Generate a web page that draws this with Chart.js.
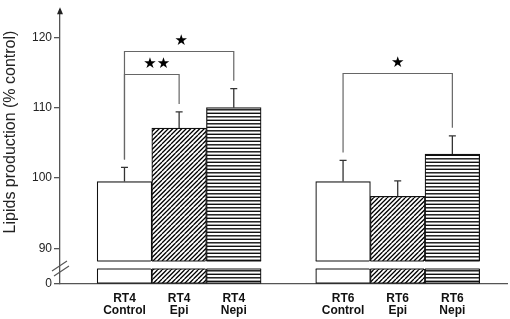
<!DOCTYPE html>
<html>
<head>
<meta charset="utf-8">
<script src="https://cdn.jsdelivr.net/npm/chart.js@4.4.1/dist/chart.umd.min.js"></script>
<style>
  html, body { margin: 0; padding: 0; background: #fff; }
  #wrap { width: 510px; height: 319px; position: relative; }
</style>
</head>
<body>
<div id="wrap"><canvas id="lipidsChart"></canvas></div>
<script>
// --- data ---
const groups = ['RT4', 'RT6'];
const treatments = ['Control', 'Epi', 'Nepi'];
const rt4Means = [99.5, 107.1, 110.0];
const rt4Sem = [2.0, 2.3, 2.7];
const rt6Means = [99.5, 97.4, 103.4];
const rt6Sem = [3.0, 2.2, 2.6];
const yTicks = [0, 90, 100, 110, 120];
const comparisons = [
    { from: 0, to: 1, mark: '★★' },
    { from: 0, to: 2, mark: '★' },
    { from: 3, to: 5, mark: '★' }
];

// axis break: values below BREAK_AT squeezed into LOW_PX at the bottom
const BREAK_AT = 88.2;
const LOW_PX = 23;
const AXIS_COLOR = '#555';

class BrokenScale extends Chart.LinearScale {
    static id = 'broken';
    static defaults = {};
    getPixelForValue(value) {
        const v = +value;
        const h = this.bottom - this.top;
        if (v <= BREAK_AT) return this.bottom - (v / BREAK_AT) * LOW_PX;
        return this.bottom - LOW_PX - (v - BREAK_AT) / (this.max - BREAK_AT) * (h - LOW_PX);
    }
    getValueForPixel(pixel) {
        const h = this.bottom - this.top;
        const d = this.bottom - pixel;
        if (d <= LOW_PX) return d / LOW_PX * BREAK_AT;
        return BREAK_AT + (d - LOW_PX) / (h - LOW_PX) * (this.max - BREAK_AT);
    }
}
Chart.register(BrokenScale);

function makeHatch() {
    const c = document.createElement('canvas');
    c.width = 9; c.height = 9;
    const g = c.getContext('2d');
    g.fillStyle = '#fff';
    g.fillRect(0, 0, 9, 9);
    g.strokeStyle = '#000';
    g.lineWidth = 1.3;
    g.beginPath();
    for (const o of [-9, -4.5, 0, 4.5, 9]) { g.moveTo(o, 9); g.lineTo(o + 9, 0); }
    g.stroke();
    return g.createPattern(c, 'repeat');
}

function makeStripes() {
    const c = document.createElement('canvas');
    c.width = 8; c.height = 7;
    const g = c.getContext('2d');
    g.fillStyle = '#fff';
    g.fillRect(0, 0, 8, 7);
    g.fillStyle = '#111';
    g.fillRect(0, 0.6, 8, 1.4);
    g.fillRect(0, 4.1, 8, 1.4);
    return g.createPattern(c, 'repeat');
}

const fills = ['#ffffff', makeHatch(), makeStripes()];

// bars laid out group by group, one empty slot between groups
const series = [rt4Means, rt6Means];
const errors = [rt4Sem, rt6Sem];
const bars = [];
groups.forEach((g, gi) => {
    treatments.forEach((t, ti) => {
        bars.push({ x: gi * (treatments.length + 1) + ti, y: series[gi][ti], err: errors[gi][ti], label: [g, t], kind: ti });
    });
});
const slotLabels = {};
bars.forEach(b => { slotLabels[b.x] = b.label; });

const overlayPlugin = {
    id: 'overlay',
    afterDatasetsDraw(chart, args, opts) {
        const ctx = chart.ctx;
        const y = chart.scales.y;
        const meta = chart.getDatasetMeta(0);
        const gapTop = y.getPixelForValue(BREAK_AT);
        const gapBot = gapTop + 8;
        ctx.save();

        // white gap cut through every bar
        meta.data.forEach(bar => {
            const l = bar.x - bar.width / 2, r = bar.x + bar.width / 2;
            ctx.fillStyle = '#fff';
            ctx.fillRect(l - 1, gapTop, r - l + 2, gapBot - gapTop);
            ctx.strokeStyle = '#111';
            ctx.lineWidth = 1.2;
            ctx.beginPath();
            ctx.moveTo(l, gapTop); ctx.lineTo(r, gapTop);
            ctx.moveTo(l, gapBot); ctx.lineTo(r, gapBot);
            ctx.stroke();
        });

        // error bars (upper half only)
        const capTops = [];
        meta.data.forEach((bar, i) => {
            const top = y.getPixelForValue(bars[i].y + bars[i].err);
            capTops.push(top);
            ctx.strokeStyle = '#333';
            ctx.lineWidth = 1.3;
            ctx.beginPath();
            ctx.moveTo(bar.x, bar.y); ctx.lineTo(bar.x, top);
            ctx.moveTo(bar.x - 3.5, top); ctx.lineTo(bar.x + 3.5, top);
            ctx.stroke();
        });

        // significance brackets
        comparisons.forEach((c, k) => {
            const a = meta.data[c.from], b = meta.data[c.to];
            const ly = Math.round(y.getPixelForValue(opts.levels[k])) + 0.5;
            ctx.strokeStyle = '#666';
            ctx.lineWidth = 1.2;
            ctx.beginPath();
            ctx.moveTo(a.x, capTops[c.from] - 8); ctx.lineTo(a.x, ly);
            ctx.lineTo(b.x, ly); ctx.lineTo(b.x, capTops[c.to] - 8);
            ctx.stroke();
            ctx.fillStyle = '#000';
            ctx.font = '15px "DejaVu Sans"';
            ctx.textAlign = 'center';
            ctx.textBaseline = 'middle';
            ctx.fillText(c.mark, (a.x + b.x) / 2 + (opts.markShift[k] || 0), ly - 10);
        });
        ctx.restore();
    },
    afterDraw(chart) {
        const ctx = chart.ctx;
        const area = chart.chartArea;
        ctx.save();
        // arrow on top of the y axis
        ctx.fillStyle = '#222';
        ctx.beginPath();
        ctx.moveTo(area.left, area.top - 2);
        ctx.lineTo(area.left - 3, area.top + 5);
        ctx.lineTo(area.left + 3, area.top + 5);
        ctx.closePath();
        ctx.fill();
        // break marks across the y axis
        const gapTop = chart.scales.y.getPixelForValue(BREAK_AT);
        ctx.strokeStyle = AXIS_COLOR;
        ctx.lineWidth = 1.1;
        ctx.beginPath();
        ctx.moveTo(area.left - 8, gapTop + 10); ctx.lineTo(area.left + 7, gapTop);
        ctx.moveTo(area.left - 6, gapTop + 15); ctx.lineTo(area.left + 9, gapTop + 5);
        ctx.stroke();
        // y axis title
        ctx.translate(11, 132);
        ctx.rotate(-Math.PI / 2);
        ctx.fillStyle = '#222';
        ctx.font = '16px "Liberation Sans", Arial, sans-serif';
        ctx.textAlign = 'center';
        ctx.textBaseline = 'middle';
        ctx.fillText('Lipids production (% control)', 0, 0);
        ctx.restore();
    }
};

new Chart(document.getElementById('lipidsChart'), {
    type: 'bar',
    data: {
        datasets: [{
            data: bars.map(b => ({ x: b.x, y: b.y })),
            backgroundColor: bars.map(b => fills[b.kind]),
            borderColor: '#111',
            borderWidth: 1.2,
            borderSkipped: false,
            barPercentage: 1,
            categoryPercentage: 1
        }]
    },
    options: {
        responsive: true,
        maintainAspectRatio: false,
        animation: false,
        events: [],
        layout: { padding: { top: 8, right: 3, left: 0, bottom: 0 } },
        plugins: {
            legend: { display: false },
            tooltip: { enabled: false },
            overlay: { levels: [114.8, 118.0, 115.0], markShift: [5, 2, 0] }
        },
        scales: {
            x: {
                type: 'linear',
                min: -1.18,
                max: 7.0,
                offset: false,
                grid: { display: false, drawTicks: false },
                border: { color: AXIS_COLOR, width: 1.3 },
                afterBuildTicks: s => { s.ticks = bars.map(b => ({ value: b.x })); },
                ticks: {
                    autoSkip: false,
                    maxRotation: 0,
                    padding: 8,
                    color: '#111',
                    font: { family: '"Liberation Sans", Arial, sans-serif', size: 12, weight: 'bold', lineHeight: 1.05 },
                    callback: v => slotLabels[v] || ''
                },
                afterFit: s => { s.height = 35; }
            },
            y: {
                type: 'broken',
                min: 0,
                max: 124,
                grid: { drawOnChartArea: false, drawTicks: true, tickLength: 6, color: AXIS_COLOR, lineWidth: 1.3 },
                border: { color: AXIS_COLOR, width: 1.3 },
                afterBuildTicks: s => { s.ticks = yTicks.map(v => ({ value: v })); },
                ticks: {
                    padding: 2,
                    color: '#222',
                    font: { family: '"Liberation Sans", Arial, sans-serif', size: 12 }
                },
                afterFit: s => { s.width = 60; }
            }
        }
    },
    plugins: [overlayPlugin]
});
</script>
</body>
</html>
